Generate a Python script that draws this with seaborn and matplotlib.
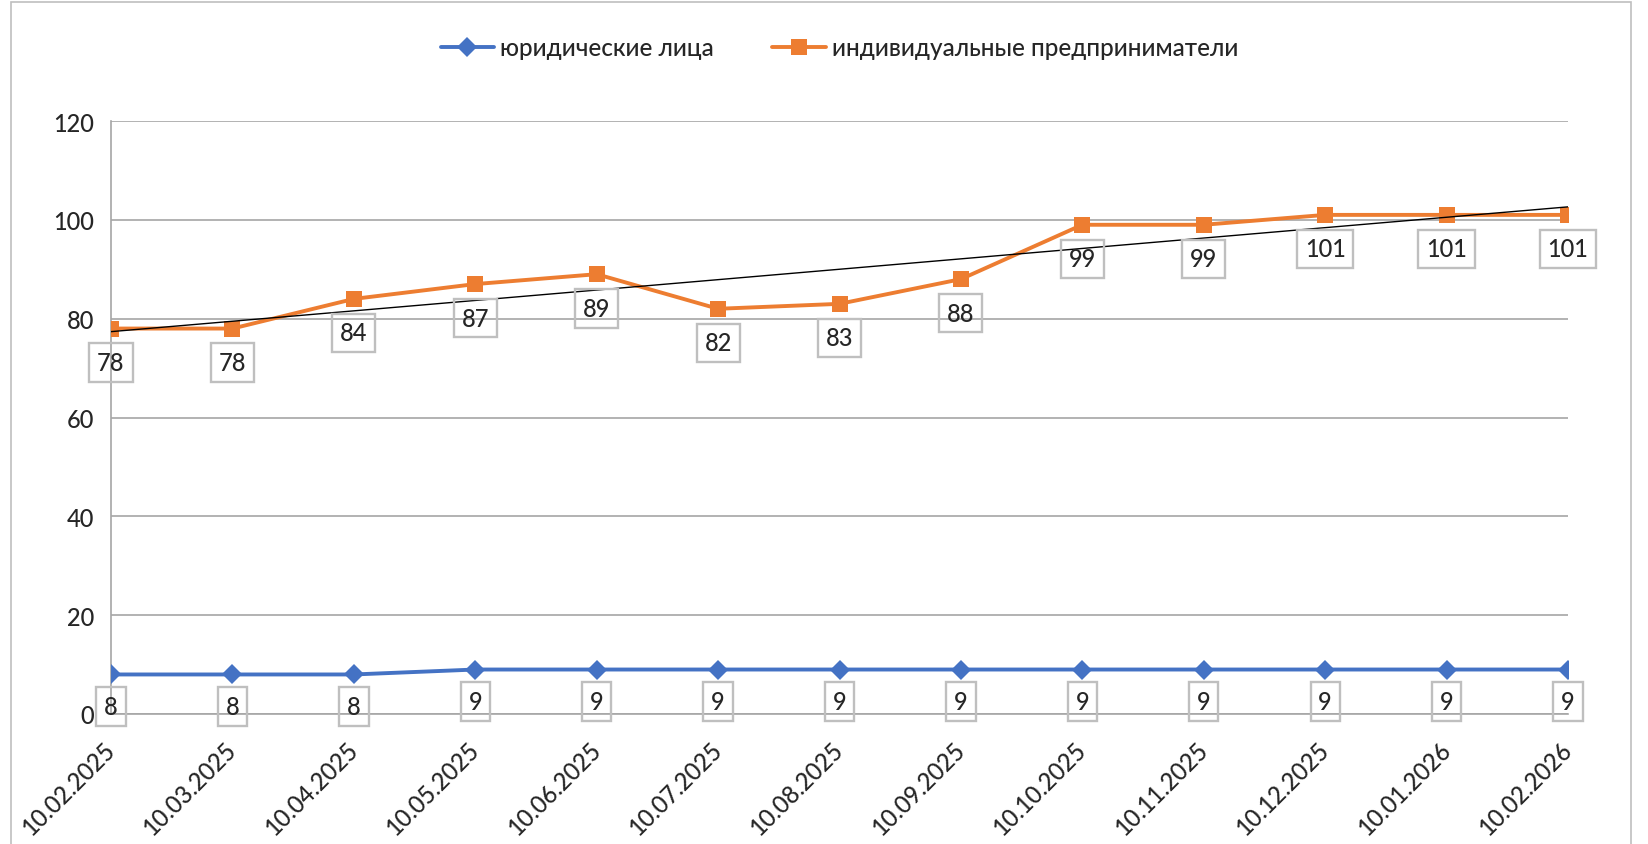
import numpy as np
import matplotlib
matplotlib.use('Agg')
import matplotlib.pyplot as plt
import seaborn as sns
from matplotlib.patches import Rectangle

dates = ['10.02.2025', '10.03.2025', '10.04.2025', '10.05.2025', '10.06.2025',
         '10.07.2025', '10.08.2025', '10.09.2025', '10.10.2025', '10.11.2025',
         '10.12.2025', '10.01.2026', '10.02.2026']
legal_entities = [8, 8, 8, 9, 9, 9, 9, 9, 9, 9, 9, 9, 9]
entrepreneurs = [78, 78, 84, 87, 89, 82, 83, 88, 99, 99, 101, 101, 101]
name_legal = 'юридические лица'
name_ip = 'индивидуальные предприниматели'

sns.set_style('white')
plt.rcParams['font.family'] = ['Lato', 'DejaVu Sans']
plt.rcParams['font.weight'] = 'medium'

blue = '#4472C4'
orange = '#ED7D31'
grid_c = '#A6A6A6'

fig = plt.figure(figsize=(16.48, 8.45), dpi=100)
ax = fig.add_axes([111 / 1648, 1 - 715 / 845, (1568 - 111) / 1648, (715 - 122) / 845])

xs = np.arange(len(dates))

sns.lineplot(x=xs, y=legal_entities, ax=ax, color=blue, lw=2.8, marker='D',
             markersize=10.5, markeredgewidth=0, label=name_legal, zorder=3)
sns.lineplot(x=xs, y=entrepreneurs, ax=ax, color=orange, lw=2.8, marker='s',
             markersize=12, markeredgewidth=0, label=name_ip, zorder=3)
# linear trend of the entrepreneurs series
sns.regplot(x=xs, y=np.array(entrepreneurs), ax=ax, scatter=False, ci=None,
            truncate=True, line_kws=dict(color='black', lw=1.0, zorder=4))

box = dict(boxstyle='square,pad=0.33', fc='none', ec='#BFBFBF', lw=1.7)
for x, v in zip(xs, legal_entities):
    ax.annotate(str(v), (x, v), xytext=(0, -23), textcoords='offset points',
                ha='center', va='center', fontsize=17, bbox=box, zorder=5)
for x, v in zip(xs, entrepreneurs):
    ax.annotate(str(v), (x, v), xytext=(0, -24.5), textcoords='offset points',
                ha='center', va='center', fontsize=17, bbox=box, zorder=5)

ax.set_xlim(0, len(dates) - 1)
ax.set_ylim(0, 120)
ax.set_yticks(range(0, 121, 20))
ax.set_xticks(xs)
ax.set_xticklabels(dates, rotation=45, ha='right', va='center',
                   rotation_mode='anchor')
ax.tick_params(axis='x', length=0, pad=23, labelsize=17)
ax.tick_params(axis='y', length=7, width=1.2, color=grid_c, pad=5, labelsize=17)
ax.grid(axis='y', color=grid_c, lw=1.2)
ax.set_axisbelow(True)
for s in ['top', 'right']:
    ax.spines[s].set_visible(False)
for s in ['left', 'bottom']:
    ax.spines[s].set_color(grid_c)
    ax.spines[s].set_linewidth(1.2)

pos = ax.get_position()
ax.legend(loc='center', bbox_to_anchor=(0.5, (1 - 49 / 845 - pos.y0) / pos.height),
          ncol=2, frameon=False, fontsize=17.5, handlelength=2.2,
          handletextpad=0.25, columnspacing=2.4)

fig.patches.append(Rectangle((11 / 1648, -0.01), (1631 - 11) / 1648, 1 - 3 / 845 + 0.01,
                             transform=fig.transFigure, fill=False,
                             ec='#BFBFBF', lw=1.2))

fig.savefig('out.png', dpi=100)
